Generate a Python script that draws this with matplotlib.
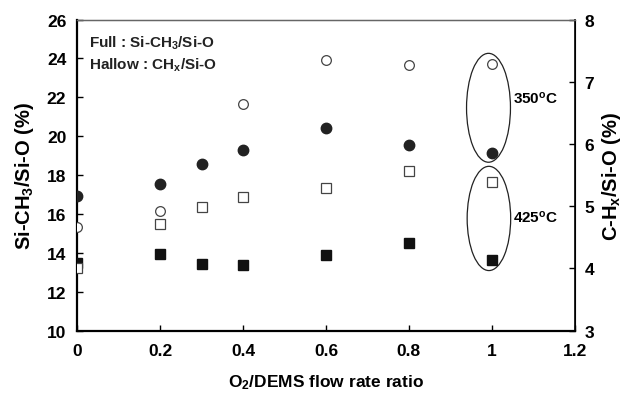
import matplotlib
matplotlib.use('Agg')
import matplotlib.pyplot as plt
from matplotlib.patches import Ellipse

plt.rcParams['font.family'] = 'Liberation Sans'
plt.rcParams['font.weight'] = 'bold'
plt.rcParams['mathtext.fontset'] = 'custom'
plt.rcParams['mathtext.rm'] = 'Liberation Sans:bold'
plt.rcParams['mathtext.bf'] = 'Liberation Sans:bold'
plt.rcParams['mathtext.it'] = 'Liberation Sans:bold'

# flow ratio
ratio = [0, 0.2, 0.3, 0.4, 0.6, 0.8, 1.0]
ratio_hc = [0, 0.2, 0.4, 0.6, 0.8, 1.0]

# Si-CH3/Si-O (left axis), full symbols
sich3_350 = [16.94, 17.53, 18.56, 19.31, 20.44, 19.55, 19.15]
sich3_425 = [13.48, 13.93, 13.45, 13.39, 13.91, 14.49, 13.62]

# CHx/Si-O (right axis), hollow symbols
chx_350 = [4.66, 4.93, 6.65, 7.35, 7.27, 7.28]
chx_425 = [4.00, 4.71, 4.98, 5.14, 5.30, 5.57, 5.39]

fig = plt.figure(figsize=(6.24, 4.02), dpi=100)
ax = fig.add_axes([0.124, 0.175, 0.797, 0.774])
ax2 = ax.twinx()

ax.plot(ratio, sich3_350, 'o', color='#222222', ms=7.5, mec='#222222', zorder=3)
ax.plot(ratio, sich3_425, 's', color='#111111', ms=7.5, mec='#111111', zorder=3)
ax2.plot(ratio_hc, chx_350, 'o', mfc='white', mec='#444444', mew=0.9, ms=7)
ax2.plot(ratio, chx_425, 's', mfc='white', mec='#444444', mew=0.9, ms=7)

ax.set_xlim(0, 1.2)
ax.set_ylim(10, 26)
ax2.set_ylim(3, 8)
ax.set_xticks([0, 0.2, 0.4, 0.6, 0.8, 1.0, 1.2])
ax.set_xticklabels(['0', '0.2', '0.4', '0.6', '0.8', '1', '1.2'])
ax.set_yticks(range(10, 27, 2))
ax2.set_yticks(range(3, 9))

for a in (ax, ax2):
    a.tick_params(direction='in', length=4, width=1, labelsize=12.5, pad=8)
ax.tick_params(axis='x', pad=9)
ax2.tick_params(pad=7)

ax.spines['left'].set_linewidth(1.6)
ax.spines['bottom'].set_linewidth(1.6)
ax2.spines['right'].set_linewidth(1.2)
ax2.spines['top'].set_linewidth(1.0)
ax2.spines['top'].set_color('#666666')
ax.spines['top'].set_color('#666666')
ax2.spines['left'].set_visible(False)
ax2.spines['bottom'].set_visible(False)

ax.set_xlabel(r'O$_2$/DEMS flow rate ratio', fontsize=12.5, fontweight='bold', labelpad=10)
ax.set_ylabel(r'Si-CH$_3$/Si-O (%)', fontsize=14.5, fontweight='bold', labelpad=8)
ax2.set_ylabel(r'C-H$_x$/Si-O (%)', fontsize=14.5, fontweight='bold', labelpad=4)

ax.text(0.023, 0.928, r'Full : Si-CH$_3$/Si-O', transform=ax.transAxes,
        fontsize=11, fontweight='bold', color='#222222', va='center')
ax.text(0.023, 0.857, r'Hallow : CH$_x$/Si-O', transform=ax.transAxes,
        fontsize=11, fontweight='bold', color='#222222', va='center')

ax.add_patch(Ellipse((0.992, 21.46), 0.106, 5.6, fill=False, lw=0.9, ec='#222222'))
ax.add_patch(Ellipse((0.993, 15.77), 0.105, 5.36, fill=False, lw=0.9, ec='#222222'))
ax.text(1.05, 22.0, r'350$^\mathrm{o}$C', fontsize=11, fontweight='bold', va='center')
ax.text(1.05, 15.85, r'425$^\mathrm{o}$C', fontsize=11, fontweight='bold', va='center')

fig.savefig('out.png', dpi=100)
